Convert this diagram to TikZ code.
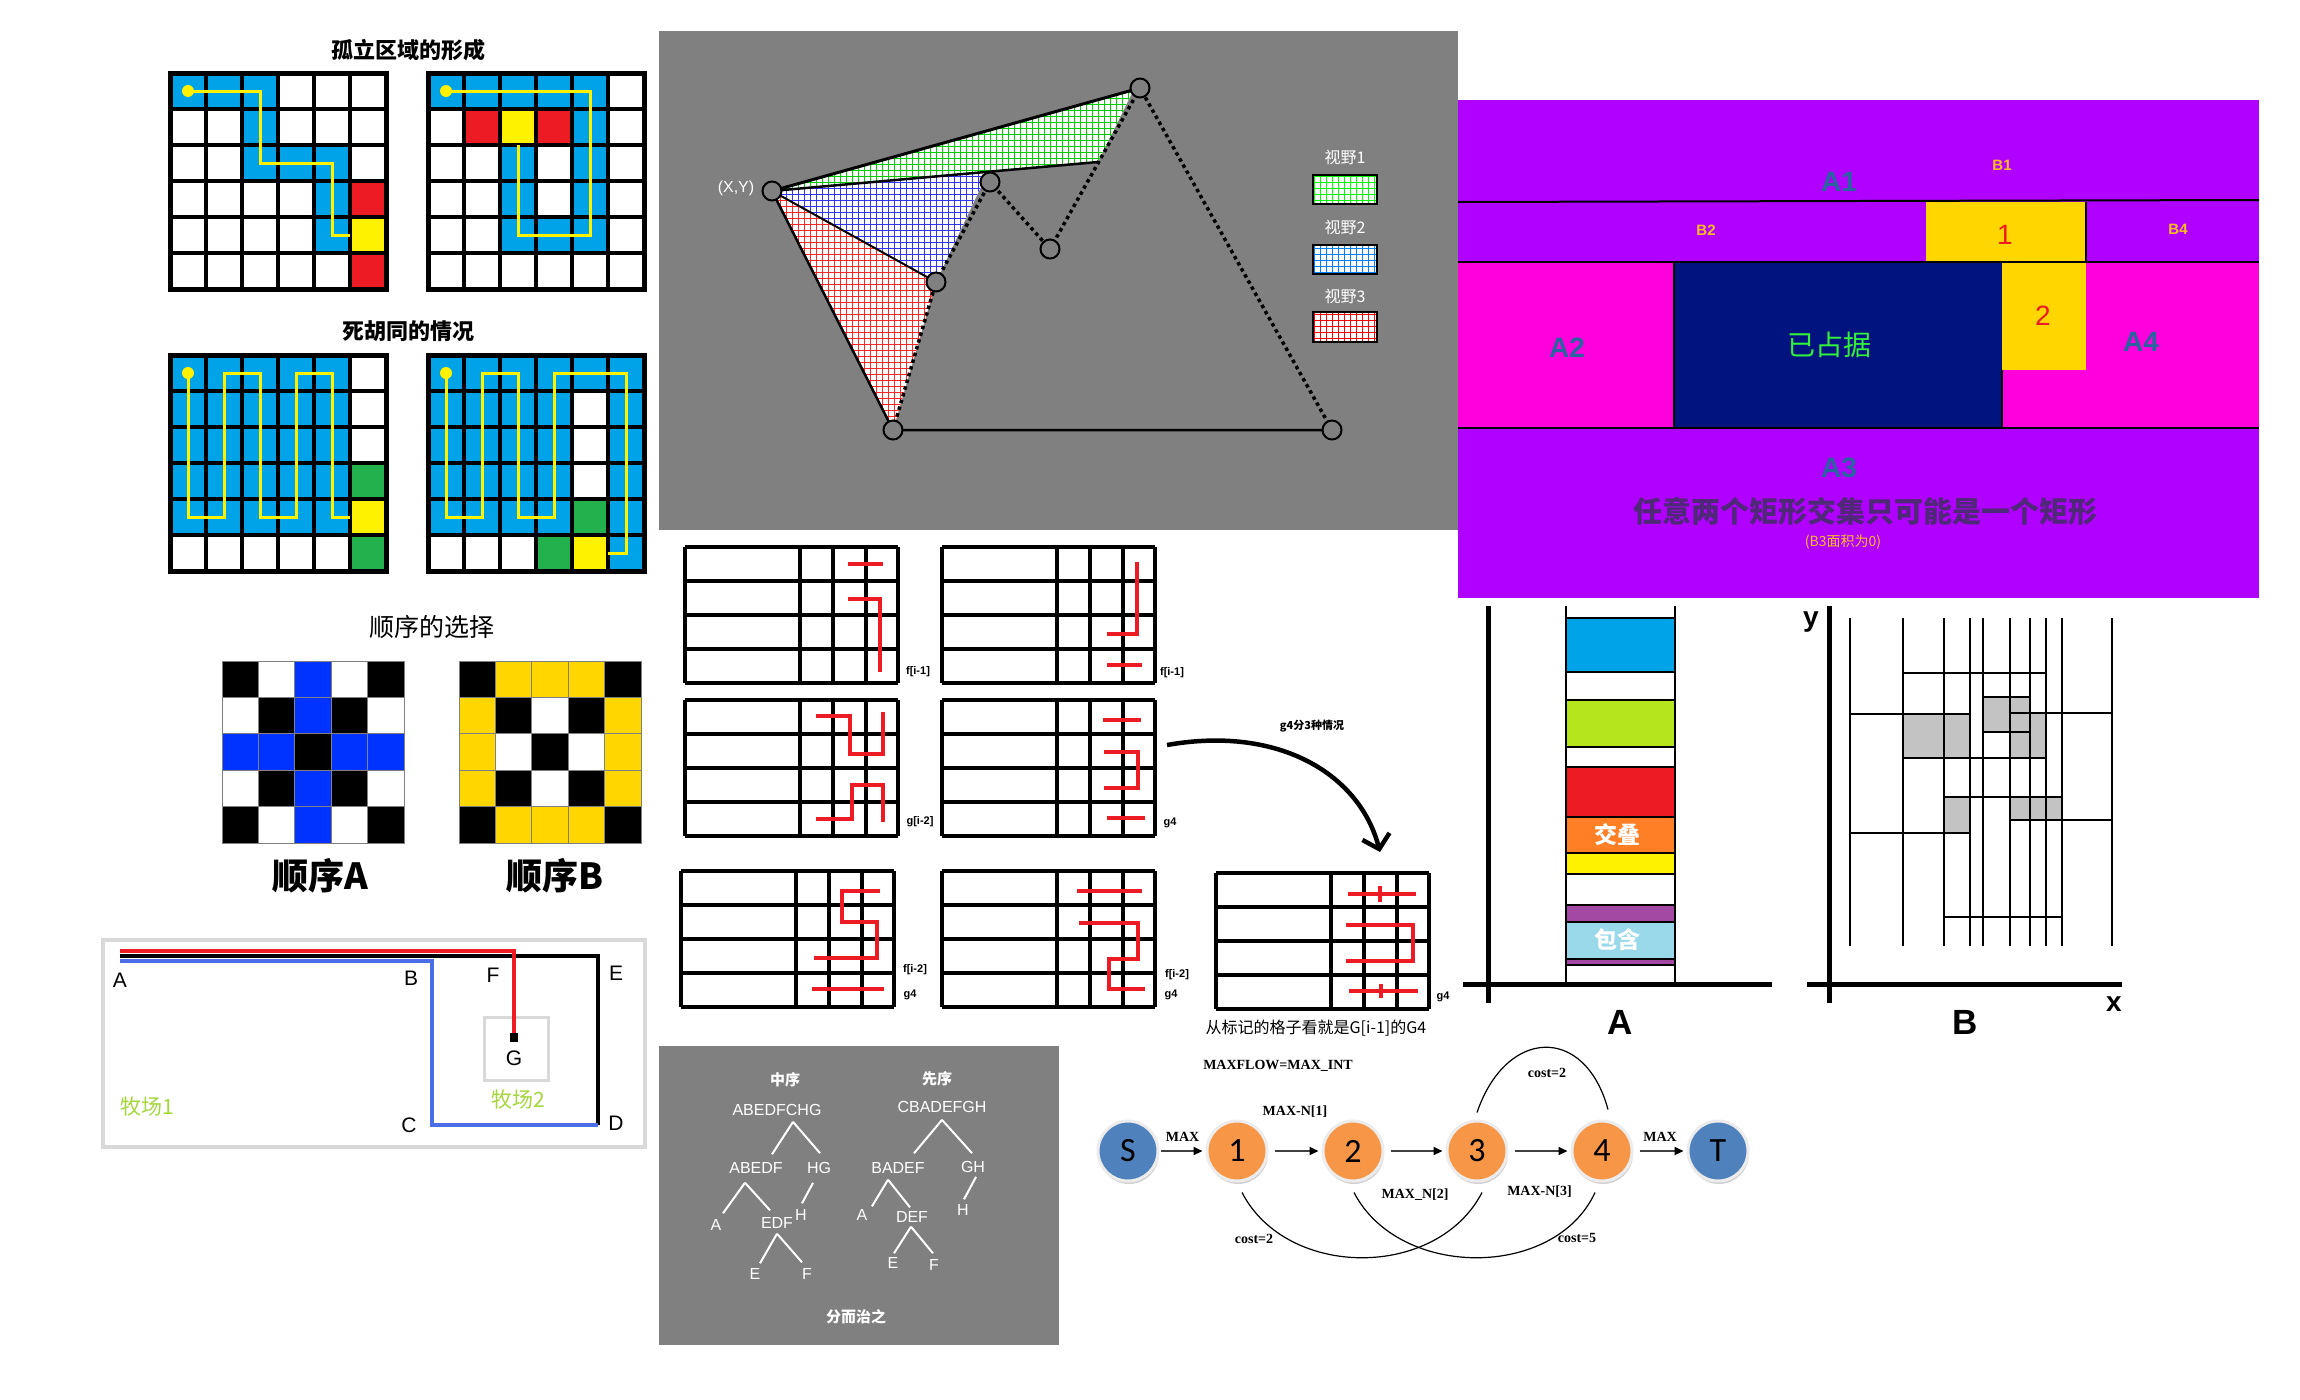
\documentclass[tikz,border=0pt]{standalone}
\usepackage{fontspec}
\setmainfont{Liberation Sans}
\newfontfamily\cjk{Noto Sans CJK SC}
\newfontfamily\flowserif{Liberation Serif}
\newfontfamily\flowsans{Carlito}
\usetikzlibrary{calc,patterns.meta,arrows.meta,shadows}
\def\fsz#1{\fontsize{#1}{#1}\selectfont}
\definecolor{paintblue}{RGB}{0,162,232}
\definecolor{paintred}{RGB}{237,28,36}
\definecolor{paintyellow}{RGB}{255,242,0}
\definecolor{paintgreen}{RGB}{34,177,76}
\definecolor{ordblue}{RGB}{0,51,255}
\definecolor{ordgold}{RGB}{255,214,0}
\definecolor{pastgreen}{RGB}{165,215,60}
\definecolor{pastblue}{RGB}{75,110,230}
\definecolor{boxgray}{RGB}{217,217,217}
\definecolor{panelgray}{RGB}{128,128,128}
\definecolor{rectpurple}{RGB}{176,0,255}
\definecolor{rectpink}{RGB}{255,0,221}
\definecolor{rectnavy}{RGB}{0,19,127}
\definecolor{rectgold}{RGB}{255,214,0}
\definecolor{labelteal}{RGB}{40,100,160}
\definecolor{tagorange}{RGB}{255,190,30}
\definecolor{occgreen}{RGB}{50,240,60}
\definecolor{textplum}{RGB}{80,40,120}
\definecolor{barlime}{RGB}{181,230,29}
\definecolor{barorange}{RGB}{255,127,39}
\definecolor{barpurple}{RGB}{163,73,164}
\definecolor{barsky}{RGB}{153,217,234}
\definecolor{cellgray}{RGB}{195,195,195}
\definecolor{nodeblue}{RGB}{79,129,189}
\definecolor{nodeorange}{RGB}{247,150,70}
% 6x6 board lines
\def\boardlines{\foreach \i in {1,...,5} {\draw[line width=4pt] (\i*36,0) -- (\i*36,216); \draw[line width=4pt] (0,\i*36) -- (216,\i*36);} \draw[line width=5pt] (0,0) rectangle (216,216);}
% 4-row strip grid, #3 = red marks
\def\stripgrid(#1,#2)#3{\begin{scope}[shift={(#1,#2)}]
  \foreach \gx in {0,115,148,181,213} \draw[line width=3.5pt] (\gx,0) -- (\gx,136);
  \foreach \gy in {0,34,68,102,136} \draw[line width=3.5pt] (0,\gy) -- (213,\gy);
  #3
\end{scope}}
\tikzset{
  pathline/.style={draw=paintyellow, line width=3pt},
  redmark/.style={draw=paintred, line width=4.5pt},
  gridtag/.style={font=\bfseries\fsz{11}},
  viewfield/.style={fill=white,
    postaction={pattern={Lines[angle=0,distance=6pt,line width=.55pt]}, pattern color=#1},
    postaction={pattern={Lines[angle=90,distance=6pt,line width=.55pt]}, pattern color=#1}},
  vertex/.style={draw=black, fill=panelgray, line width=2pt},
  treetext/.style={text=white, inner sep=0pt, font=\fsz{16}},
  treeedge/.style={draw=white, line width=2pt},
  flownode/.style={circle, minimum size=60pt, inner sep=0pt, draw=white!85!gray, line width=3pt,
    font=\flowsans\fsz{34}, drop shadow={shadow xshift=1pt, shadow yshift=-3pt, opacity=.35}},
  flowarrow/.style={draw=black!75, line width=2pt, -{Triangle[length=9pt,width=8pt,color=black]},
    shorten <=6pt, shorten >=3pt},
  flowtag/.style={font=\flowserif\bfseries\fsz{14}}
}
\begin{document}
\begin{tikzpicture}[x=1pt,y=-1pt]
  \useasboundingbox (0,0) rectangle (2300,1400);
  \fill[white] (0,0) rectangle (2300,1400);
  %%%%% BOARDS %%%%%
  \node[font=\cjk\bfseries\fsz{22}] (isotitle) at (408,50) {孤立区域的形成};
  \node[font=\cjk\bfseries\fsz{22}] (deadtitle) at (408,331) {死胡同的情况};

  \begin{scope}[shift={(170,73)}]
    \fill[white] (0,0) rectangle (216,216);
    \foreach \r/\c in {0/0,0/1,0/2,1/2,2/2,2/3,2/4,3/4,4/4} \fill[paintblue] (\c*36,\r*36) rectangle ++(36,36);
    \foreach \r/\c in {3/5,5/5} \fill[paintred] (\c*36,\r*36) rectangle ++(36,36);
    \fill[paintyellow] (180,144) rectangle ++(36,36);
    \boardlines
    \draw[pathline] (18,18) -- (90,18) -- (90,90) -- (162,90) -- (162,162) -- (180,162);
    \fill[paintyellow] (18,18) circle (6);
  \end{scope}

  \begin{scope}[shift={(428,73)}]
    \fill[white] (0,0) rectangle (216,216);
    \foreach \r/\c in {0/0,0/1,0/2,0/3,0/4,1/4,2/2,2/4,3/2,3/4,4/2,4/3,4/4} \fill[paintblue] (\c*36,\r*36) rectangle ++(36,36);
    \foreach \r/\c in {1/1,1/3} \fill[paintred] (\c*36,\r*36) rectangle ++(36,36);
    \fill[paintyellow] (72,36) rectangle ++(36,36);
    \boardlines
    \draw[pathline] (18,18) -- (162,18) -- (162,162) -- (90,162) -- (90,72);
    \fill[paintyellow] (18,18) circle (6);
  \end{scope}

  \begin{scope}[shift={(170,355)}]
    \fill[white] (0,0) rectangle (216,216);
    \fill[paintblue] (0,0) rectangle (180,180);
    \foreach \r/\c in {3/5,5/5} \fill[paintgreen] (\c*36,\r*36) rectangle ++(36,36);
    \fill[paintyellow] (180,144) rectangle ++(36,36);
    \boardlines
    \draw[pathline] (18,18) -- (18,162) -- (54,162) -- (54,18) -- (90,18) -- (90,162) -- (126,162) -- (126,18) -- (162,18) -- (162,162) -- (180,162);
    \fill[paintyellow] (18,18) circle (6);
  \end{scope}

  \begin{scope}[shift={(428,355)}]
    \fill[paintblue] (0,0) rectangle (216,216);
    \foreach \r/\c in {1/4,2/4,3/4,5/0,5/1,5/2} \fill[white] (\c*36,\r*36) rectangle ++(36,36);
    \foreach \r/\c in {4/4,5/3} \fill[paintgreen] (\c*36,\r*36) rectangle ++(36,36);
    \fill[paintyellow] (144,180) rectangle ++(36,36);
    \boardlines
    \draw[pathline] (18,18) -- (18,162) -- (54,162) -- (54,18) -- (90,18) -- (90,162) -- (126,162) -- (126,18) -- (198,18) -- (198,198) -- (180,198);
    \fill[paintyellow] (18,18) circle (6);
  \end{scope}

  %%%%% ORDER %%%%%
  \node[font=\cjk\fsz{25}] (ordtitle) at (432,627) {顺序的选择};
  \begin{scope}[shift={(222,661)}]
    \foreach \row [count=\r from 0] in {{black,white,ordblue,white,black},{white,black,ordblue,black,white},{ordblue,ordblue,black,ordblue,ordblue},{white,black,ordblue,black,white},{black,white,ordblue,white,black}}
      \foreach \col [count=\c from 0] in \row
        \filldraw[fill=\col, draw=gray, line width=1pt] (\c*36.4,\r*36.4) rectangle ++(36.4,36.4);
  \end{scope}
  \begin{scope}[shift={(459,661)}]
    \foreach \row [count=\r from 0] in {{black,ordgold,ordgold,ordgold,black},{ordgold,black,white,black,ordgold},{ordgold,white,black,white,ordgold},{ordgold,black,white,black,ordgold},{black,ordgold,ordgold,ordgold,black}}
      \foreach \col [count=\c from 0] in \row
        \filldraw[fill=\col, draw=gray, line width=1pt] (\c*36.4,\r*36.4) rectangle ++(36.4,36.4);
  \end{scope}
  \node[font=\cjk\bfseries\fsz{36}] (orda) at (320,876) {顺序A};
  \node[font=\cjk\bfseries\fsz{36}] (ordb) at (555,876) {顺序B};

  %%%%% PASTURE %%%%%
  \draw[line width=4pt, boxgray] (103,940) rectangle (645,1147);
  \draw[line width=3pt, boxgray] (484,1017) rectangle (548,1080);
  \draw[line width=4pt] (120,956) -- (598,956) -- (598,1125);
  \draw[line width=4pt, pastblue] (120,961) -- (432,961) -- (432,1125) -- (598,1125);
  \draw[line width=4pt, paintred] (120,951) -- (514,951) -- (514,1036);
  \fill (510,1033) rectangle (518,1042);
  \node[font=\fsz{21}] (pa) at (120,980) {A};
  \node[font=\fsz{21}] (pb) at (411,978) {B};
  \node[font=\fsz{21}] (pf) at (493,975) {F};
  \node[font=\fsz{21}] (pe) at (616,973) {E};
  \node[font=\fsz{21}] (pg) at (514,1058) {G};
  \node[font=\fsz{21}] (pc) at (409,1125) {C};
  \node[font=\fsz{21}] (pd) at (616,1123) {D};
  \node[font=\cjk\fsz{21}, text=pastgreen] (field1) at (147,1107) {牧场1};
  \node[font=\cjk\fsz{21}, text=pastgreen] (field2) at (518,1100) {牧场2};

  %%%%% VIEW POLYGON %%%%%
  \fill[panelgray] (659,31) rectangle (1458,530);
  \coordinate (xy) at (772,191);
  \coordinate (peak) at (1140,88);
  \coordinate (notch) at (990,182);
  \coordinate (pit) at (1050,249);
  \coordinate (mid) at (936,282);
  \coordinate (low) at (893,430);
  \coordinate (far) at (1332,430);
  \fill[viewfield=green!80!black] (xy) -- (1133,91) -- (1098,162) -- cycle;
  \fill[viewfield=blue!80!white] (xy) -- (988,172) -- (mid) -- cycle;
  \fill[viewfield=red!85!white] (xy) -- (mid) -- (low) -- cycle;
  \draw[line width=3pt] (xy) -- (peak);
  \draw[line width=2.5pt] (xy) -- (1098,162);
  \draw[line width=2pt] (xy) -- (mid);
  \draw[line width=2.5pt] (xy) -- (low) -- (far);
  \draw[line width=3.5pt, dash pattern=on 3.5pt off 3.5pt] (low) -- (mid) -- (notch) -- (pit) -- (peak) -- (far);
  \foreach \p in {xy,peak,notch,pit,mid,low,far} \filldraw[vertex] (\p) circle (9.5);
  \node[text=white, font=\fsz{16}] (xylabel) at (736,188) {(X,Y)};
  \node[text=white, font=\cjk\fsz{16}] (view1) at (1345,157) {视野1};
  \node[text=white, font=\cjk\fsz{16}] (view2) at (1345,227) {视野2};
  \node[text=white, font=\cjk\fsz{16}] (view3) at (1345,296) {视野3};
  \fill[viewfield=green] (1313,175) rectangle (1377,204);
  \fill[viewfield=blue!50!cyan] (1313,245) rectangle (1377,274);
  \fill[viewfield=red] (1313,312) rectangle (1377,342);
  \draw[line width=1.5pt] (1313,175) rectangle (1377,204) (1313,245) rectangle (1377,274) (1313,312) rectangle (1377,342);

  %%%%% RECTANGLES %%%%%
  \fill[rectpurple] (1458,100) rectangle (2259,598);
  \fill[rectpink] (1458,262) rectangle (2259,428);
  \fill[rectnavy] (1674,262) rectangle (2002,428);
  \fill[rectgold] (1926,202) rectangle (2086,261);
  \fill[rectgold] (2002,262) rectangle (2086,370);
  \draw[line width=2pt] (1458,202) -- (2259,200);
  \draw[line width=2pt] (1458,262) -- (2259,262);
  \draw[line width=2pt] (1458,428) -- (2259,428);
  \draw[line width=2pt] (1674,262) -- (1674,428);
  \draw[line width=1.5pt] (2002,370) -- (2002,428);
  \draw[line width=2pt] (2086,202) -- (2086,262);
  \node[font=\bfseries\fsz{28}, text=labelteal] (ra1) at (1839,182) {A1};
  \node[font=\bfseries\fsz{28}, text=labelteal] (ra2) at (1567,348) {A2};
  \node[font=\bfseries\fsz{28}, text=labelteal] (ra3) at (1839,468) {A3};
  \node[font=\bfseries\fsz{28}, text=labelteal] (ra4) at (2141,342) {A4};
  \node[font=\bfseries\fsz{15}, text=tagorange] (rb1) at (2002,165) {B1};
  \node[font=\bfseries\fsz{15}, text=tagorange] (rb2) at (1706,230) {B2};
  \node[font=\bfseries\fsz{15}, text=tagorange] (rb4) at (2178,229) {B4};
  \node[font=\fsz{28}, text=paintred] (rone) at (2005,235) {1};
  \node[font=\fsz{28}, text=paintred] (rtwo) at (2043,316) {2};
  \node[font=\cjk\fsz{28}, text=occgreen] (taken) at (1829,345) {已占据};
  \node[font=\cjk\bfseries\fsz{29}, text=textplum] (rule) at (1865,511) {任意两个矩形交集只可能是一个矩形};
  \node[font=\cjk\fsz{14}, text=tagorange] (ruleb) at (1843,542) {(B3面积为0)};

  %%%%% STRIP GRIDS %%%%%
  \stripgrid(685,547){
    \draw[redmark] (163,17) -- (198,17);
    \draw[redmark] (163,52) -- (195,52) -- (195,125);
    \node[gridtag] (tag1) at (233,125) {f[i-1]};
  }
  \stripgrid(942,547){
    \draw[redmark] (195,15) -- (195,87) -- (165,87);
    \draw[redmark] (165,118) -- (200,118);
    \node[gridtag] (tag2) at (230,126) {f[i-1]};
  }
  \stripgrid(685,700){
    \draw[redmark] (131,16) -- (165,16) -- (165,54) -- (198,54) -- (198,12);
    \draw[redmark] (131,119) -- (167,119) -- (167,85) -- (198,85) -- (198,122);
    \node[gridtag] (tag3) at (235,122) {g[i-2]};
  }
  \stripgrid(942,700){
    \draw[redmark] (161,20) -- (199,20);
    \draw[redmark] (162,52) -- (196,52) -- (196,88) -- (162,88);
    \draw[redmark] (165,118) -- (203,118);
    \node[gridtag] (tag4) at (228,123) {g4};
  }
  \stripgrid(681,871){
    \draw[redmark] (199,20) -- (161,20) -- (161,51) -- (196,51) -- (196,87) -- (133,87);
    \draw[redmark] (131,118) -- (203,118);
    \node[gridtag] (tag5) at (234,99) {f[i-2]};
    \node[gridtag] (tag5b) at (229,124) {g4};
  }
  \stripgrid(942,871){
    \draw[redmark] (135,20) -- (200,20);
    \draw[redmark] (137,52) -- (196,52) -- (196,88) -- (167,88) -- (167,118) -- (203,118);
    \node[gridtag] (tag6) at (235,104) {f[i-2]};
    \node[gridtag] (tag6b) at (229,124) {g4};
  }
  \stripgrid(1216,873){
    \draw[redmark] (132,21) -- (200,21);
    \draw[redmark] (164,13) -- (164,29);
    \draw[redmark] (130,52) -- (197,52) -- (197,88) -- (130,88);
    \draw[redmark] (133,118) -- (202,118);
    \draw[redmark] (165,111) -- (165,125);
    \node[gridtag] (tag7) at (227,124) {g4};
  }
  \coordinate (bendfrom) at (1167,745);
  \coordinate (bendto) at (1380,852);
  \draw[line width=4.5pt, -{Straight Barb[length=13pt,width=28pt,line width=4.5pt]}] (bendfrom) .. controls (1280,725) and (1360,775) .. (bendto);
  \node[font=\cjk\bfseries\fsz{11}] (cases) at (1312,726) {g4分3种情况};
  \node[font=\cjk\fsz{16}] (marked) at (1316,1028) {从标记的格子看就是G[i-1]的G4};

  %%%%% CHART A %%%%%
  \foreach \ya/\yb/\col in {618/672/paintblue, 672/700/white, 700/747/barlime, 747/767/white, 767/817/paintred, 817/853/barorange, 853/874/paintyellow, 874/905/white, 905/922/barpurple, 922/959/barsky, 959/965/barpurple, 965/984/white}
    \filldraw[fill=\col, line width=1.5pt] (1566,\ya) rectangle (1675,\yb);
  \draw[line width=1.5pt] (1566,606) -- (1566,984) (1675,606) -- (1675,984);
  \draw[line width=5pt] (1488,606) -- (1488,1003);
  \draw[line width=5pt] (1463,984) -- (1772,984);
  \node[font=\cjk\bfseries\fsz{23}, text=white] (overlap) at (1617,835) {交叠};
  \node[font=\cjk\bfseries\fsz{23}, text=white] (contain) at (1617,940) {包含};
  \node[font=\bfseries\fsz{35}] (chara) at (1620,1022) {A};

  %%%%% CHART B %%%%%
  \foreach \xa/\ya/\xb/\yb in {1903/714/1970/758, 1983/697/2030/732, 2010/713/2046/758, 1944/797/1970/833, 2010/797/2062/820}
    \fill[cellgray] (\xa,\ya) rectangle (\xb,\yb);
  \foreach \bx in {1850,1903,1944,1970,1983,2010,2030,2046,2062,2112}
    \draw[line width=1.5pt] (\bx,618) -- (\bx,946);
  \foreach \ya/\xa/\xb in {673/1903/2046, 697/1983/2030, 713/2010/2112, 714/1850/1970, 732/1983/2030, 758/1903/2046, 797/1944/2062, 820/2010/2112, 833/1850/1970, 917/1944/2062}
    \draw[line width=1.5pt] (\xa,\ya) -- (\xb,\ya);
  \draw[line width=5pt] (1829,606) -- (1829,1003);
  \draw[line width=5pt] (1807,984) -- (2122,984);
  \node[font=\bfseries\fsz{28}] (axisy) at (1811,622) {y};
  \node[font=\bfseries\fsz{28}] (axisx) at (2114,1004) {x};
  \node[font=\bfseries\fsz{35}] (charb) at (1965,1022) {B};

  %%%%% TREES %%%%%
  \fill[panelgray] (659,1046) rectangle (1059,1345);
  \node[treetext, font=\cjk\bfseries\fsz{15}] (inlabel) at (785,1080) {中序};
  \node[treetext] (in0) at (777,1110) {ABEDFCHG};
  \node[treetext] (in1) at (756,1168) {ABEDF};
  \node[treetext] (in2) at (819,1168) {HG};
  \node[treetext] (in3) at (716,1225) {A};
  \node[treetext] (in4) at (777,1223) {EDF};
  \node[treetext] (in5) at (801,1215) {H};
  \node[treetext] (in6) at (755,1274) {E};
  \node[treetext] (in7) at (807,1274) {F};
  \draw[treeedge] ([xshift=16pt,yshift=-6pt]in0.south) -- ([xshift=16pt,yshift=8pt]in1.north);
  \draw[treeedge] ([xshift=16pt,yshift=-6pt]in0.south) -- ([xshift=1pt,yshift=9pt]in2.north);
  \draw[treeedge] ([xshift=-11pt,yshift=-9pt]in1.south) -- ([xshift=7pt,yshift=6pt]in3.north);
  \draw[treeedge] ([xshift=-11pt,yshift=-9pt]in1.south) -- ([xshift=-7pt,yshift=7pt]in4.north);
  \draw[treeedge] ([xshift=-6pt,yshift=-9pt]in2.south) -- ([xshift=1pt,yshift=6pt]in5.north);
  \draw[treeedge] ([yshift=-5pt]in4.south) -- ([xshift=5pt,yshift=5pt]in6.north);
  \draw[treeedge] ([yshift=-5pt]in4.south) -- ([xshift=-5pt,yshift=6pt]in7.north);
  \node[treetext, font=\cjk\bfseries\fsz{15}] (prelabel) at (937,1079) {先序};
  \node[treetext] (pr0) at (942,1107) {CBADEFGH};
  \node[treetext] (pr1) at (898,1168) {BADEF};
  \node[treetext] (pr2) at (973,1167) {GH};
  \node[treetext] (pr3) at (862,1215) {A};
  \node[treetext] (pr4) at (912,1217) {DEF};
  \node[treetext] (pr5) at (963,1210) {H};
  \node[treetext] (pr6) at (893,1263) {E};
  \node[treetext] (pr7) at (934,1265) {F};
  \draw[treeedge] ([yshift=-7pt]pr0.south) -- ([xshift=16pt,yshift=9pt]pr1.north);
  \draw[treeedge] ([yshift=-7pt]pr0.south) -- ([xshift=-1pt,yshift=8pt]pr2.north);
  \draw[treeedge] ([xshift=-10pt,yshift=-6pt]pr1.south) -- ([xshift=10pt,yshift=3pt]pr3.north);
  \draw[treeedge] ([xshift=-10pt,yshift=-6pt]pr1.south) -- ([xshift=-2pt,yshift=4pt]pr4.north);
  \draw[treeedge] ([xshift=3pt,yshift=-4pt]pr2.south) -- ([xshift=1pt,yshift=5pt]pr5.north);
  \draw[treeedge] ([xshift=-1pt,yshift=-4pt]pr4.south) -- ([xshift=1pt,yshift=4pt]pr6.north);
  \draw[treeedge] ([xshift=-1pt,yshift=-4pt]pr4.south) -- ([xshift=-1pt,yshift=6pt]pr7.north);
  \node[treetext, font=\cjk\bfseries\fsz{15}] (divide) at (856,1317) {分而治之};

  %%%%% FLOW %%%%%
  \node[flowtag] (maxflow) at (1278,1066) {MAXFLOW=MAX\_INT};
  \node[flownode, fill=nodeblue] (s) at (1128,1151) {S};
  \node[flownode, fill=nodeorange] (n1) at (1237,1151) {1};
  \node[flownode, fill=nodeorange] (n2) at (1353,1151) {2};
  \node[flownode, fill=nodeorange] (n3) at (1477,1151) {3};
  \node[flownode, fill=nodeorange] (n4) at (1602,1151) {4};
  \node[flownode, fill=nodeblue] (t) at (1718,1151) {T};
  \draw[flowarrow, shorten <=1pt] (s) -- node[flowtag, above=5pt] (capsa) {MAX} (n1);
  \draw[flowarrow] (n1) -- node[flowtag, above=29pt] (cap12) {MAX-N[1]} (n2);
  \draw[flowarrow] (n2) -- node[flowtag, below=33pt] (cap23) {MAX\_N[2]} (n3);
  \draw[flowarrow] (n3) -- node[flowtag, below=30pt] (cap34) {MAX-N[3]} (n4);
  \draw[flowarrow] (n4) -- node[flowtag, above=5pt] (cap4t) {MAX} (t);
  \draw[line width=1.2pt] ([yshift=7pt]n3.north) .. controls +(29,-85) and +(-23,-85) .. ([xshift=6pt,yshift=10pt]n4.north);
  \draw[line width=1.2pt] ([xshift=5pt,yshift=-10pt]n1.south) .. controls +(45,87) and +(-45,87) .. ([xshift=5pt,yshift=-10pt]n3.south);
  \draw[line width=1.2pt] ([xshift=1pt,yshift=-10pt]n2.south) .. controls +(45,87) and +(-40,87) .. ([xshift=-7pt,yshift=-10pt]n4.south);
  \node[flowtag] (costtop) at (1547,1073) {cost=2};
  \node[flowtag] (costleft) at (1254,1239) {cost=2};
  \node[flowtag] (costright) at (1577,1238) {cost=5};
\end{tikzpicture}
\end{document}
